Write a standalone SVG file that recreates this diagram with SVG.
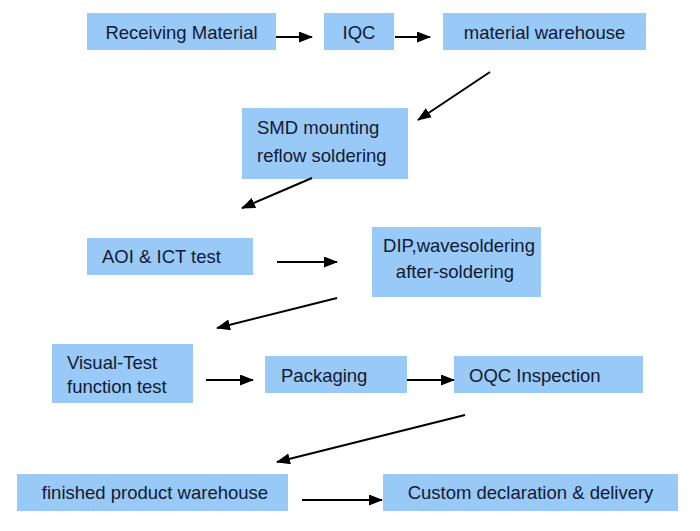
<svg xmlns="http://www.w3.org/2000/svg" width="700" height="531" viewBox="0 0 700 531">
  <style>
    .box { fill: #99c9f7; }
    .lbl { font-family: "Liberation Sans", Arial, sans-serif; font-size: 18.5px; fill: #111a30; }
    .mid { text-anchor: middle; }
    .conn { stroke: #000; stroke-width: 2; fill: none; marker-end: url(#ah); }
  </style>
  <defs>
    <marker id="ah" markerUnits="userSpaceOnUse" markerWidth="15" markerHeight="12" refX="13" refY="5.5" orient="auto">
      <path d="M0,0 L14,5.5 L0,11 Z" fill="#000"/>
    </marker>
  </defs>
  <rect width="700" height="531" fill="#fff"/>

  <g id="receiving">
    <rect class="box" x="87" y="13" width="189" height="37"/>
    <text class="lbl mid" x="181.5" y="39">Receiving Material</text>
  </g>
  <g id="iqc">
    <rect class="box" x="324" y="13" width="70" height="37"/>
    <text class="lbl mid" x="359" y="39">IQC</text>
  </g>
  <g id="material-warehouse">
    <rect class="box" x="443" y="13" width="203" height="37"/>
    <text class="lbl mid" x="544.5" y="39">material warehouse</text>
  </g>
  <g id="smd">
    <rect class="box" x="242" y="108" width="166" height="71"/>
    <text class="lbl" x="257" y="134">SMD mounting</text>
    <text class="lbl" x="257" y="162">reflow soldering</text>
  </g>
  <g id="aoi">
    <rect class="box" x="87" y="238" width="166" height="37"/>
    <text class="lbl" x="102" y="263">AOI &amp; ICT test</text>
  </g>
  <g id="dip">
    <rect class="box" x="372" y="227" width="169" height="70"/>
    <text class="lbl mid" x="459" y="252">DIP,wavesoldering</text>
    <text class="lbl mid" x="455" y="278">after-soldering</text>
  </g>
  <g id="visual">
    <rect class="box" x="52" y="344" width="141" height="59"/>
    <text class="lbl" x="67" y="369">Visual-Test</text>
    <text class="lbl" x="67" y="393">function test</text>
  </g>
  <g id="packaging">
    <rect class="box" x="265" y="356" width="142" height="37"/>
    <text class="lbl" x="281" y="382">Packaging</text>
  </g>
  <g id="oqc">
    <rect class="box" x="454" y="356" width="189" height="37"/>
    <text class="lbl" x="469" y="382">OQC Inspection</text>
  </g>
  <g id="finished">
    <rect class="box" x="17" y="474" width="271" height="37"/>
    <text class="lbl mid" x="155" y="499">finished product warehouse</text>
  </g>
  <g id="custom">
    <rect class="box" x="383" y="474" width="295" height="37"/>
    <text class="lbl mid" x="530.5" y="499">Custom declaration &amp; delivery</text>
  </g>

  <g id="connectors">
    <line class="conn" x1="276" y1="37" x2="312" y2="37"/>
    <line class="conn" x1="395" y1="37" x2="430" y2="37"/>
    <line class="conn" x1="490" y1="72" x2="418" y2="120"/>
    <line class="conn" x1="312" y1="178" x2="242" y2="208"/>
    <line class="conn" x1="277" y1="262" x2="337" y2="262"/>
    <line class="conn" x1="337" y1="298" x2="217" y2="328"/>
    <line class="conn" x1="206" y1="380" x2="253" y2="380"/>
    <line class="conn" x1="407" y1="380" x2="454" y2="380"/>
    <line class="conn" x1="465" y1="415" x2="277" y2="462"/>
    <line class="conn" x1="302" y1="500" x2="382" y2="500"/>
  </g>
</svg>
